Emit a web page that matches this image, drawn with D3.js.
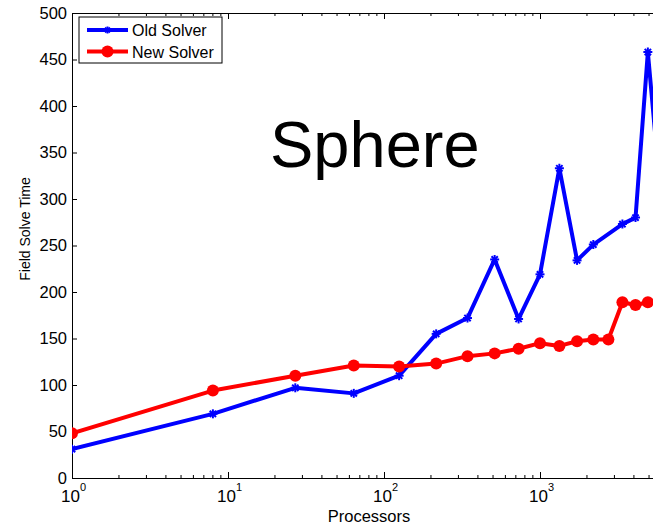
<!DOCTYPE html>
<html>
<head>
<meta charset="utf-8">
<script src="https://cdn.jsdelivr.net/npm/d3@7"></script>
<style>
  body { margin: 0; background: #fff; }
  svg { display: block; font-family: "Liberation Sans", Arial, sans-serif; }
</style>
</head>
<body>
<script>
// Processor counts (cubes) and solve times
var oldProcs = [1, 8, 27, 64, 125, 216, 343, 512, 729, 1000, 1331, 1728, 2197, 3375, 4096, 4913, 5832];
var oldTimes = [31, 69, 97, 91, 110, 155, 172, 235, 171, 219, 333, 234, 251, 273, 280, 458, 318];
var newProcs = [1, 8, 27, 64, 125, 216, 343, 512, 729, 1000, 1331, 1728, 2197, 2744, 3375, 4096, 4913];
var newTimes = [48, 94, 110, 121, 120, 123, 131, 134, 139, 145, 142, 147, 149, 149, 189, 186, 189];
var seriesNames = ["Old Solver", "New Solver"];
var yTicks = [0, 50, 100, 150, 200, 250, 300, 350, 400, 450, 500];
var xTicks = [1, 10, 100, 1000];

var width = 653, height = 526;
var plotLeft = 72, plotTop = 13, plotBottom = 478;

var svg = d3.select("body").append("svg")
  .attr("width", width)
  .attr("height", height);

// Log x scale: one decade is about 156px, axis runs past the right edge
var x = d3.scaleLog().domain([1, 6300]).range([plotLeft, plotLeft + 156 * Math.log10(6300)]);
var y = d3.scaleLinear().domain([0, 500]).range([plotBottom, plotTop]);
var plotRight = x.range()[1];

svg.append("defs").append("clipPath").attr("id", "plotClip")
  .append("rect")
  .attr("x", plotLeft).attr("y", plotTop - 8)
  .attr("width", plotRight - plotLeft).attr("height", plotBottom - plotTop + 16);

// Minor ticks for the log axis
var minor = [];
[1, 10, 100, 1000].forEach(function (d) {
  for (var k = 2; k <= 9; k++) if (d * k < 6300) minor.push(d * k);
});

// Bottom axis
var xAxis = svg.append("g")
  .attr("transform", "translate(0," + plotBottom + ")")
  .call(d3.axisBottom(x).tickValues(xTicks).tickSizeInner(-6).tickSizeOuter(0).tickFormat(""));
xAxis.select(".domain").attr("stroke", "#000");

xAxis.selectAll(".minor").data(minor).enter().append("line")
  .attr("class", "minor")
  .attr("x1", function (d) { return x(d); })
  .attr("x2", function (d) { return x(d); })
  .attr("y1", 0).attr("y2", -3)
  .attr("stroke", "#000");

// Tick labels as 10 with superscript exponent
xTicks.forEach(function (d) {
  var t = svg.append("text")
    .attr("x", x(d) - 11)
    .attr("y", 502)
    .attr("font-size", 17)
    .attr("fill", "#000");
  t.append("tspan").text("10");
  t.append("tspan").attr("dy", -11).attr("font-size", 11).text(Math.round(Math.log10(d)));
});

// Top axis (box)
var xTop = svg.append("g")
  .attr("transform", "translate(0," + plotTop + ")")
  .call(d3.axisTop(x).tickValues(xTicks).tickSizeInner(-6).tickSizeOuter(0).tickFormat(""));
xTop.selectAll(".minor").data(minor).enter().append("line")
  .attr("class", "minor")
  .attr("x1", function (d) { return x(d); })
  .attr("x2", function (d) { return x(d); })
  .attr("y1", 0).attr("y2", 3)
  .attr("stroke", "#000");

// Left axis
var yAxis = svg.append("g")
  .attr("transform", "translate(" + plotLeft + ",0)")
  .call(d3.axisLeft(y).tickValues(yTicks).tickSizeInner(-5).tickSizeOuter(0).tickPadding(5));
yAxis.selectAll("text").attr("font-size", 16.5).attr("fill", "#000")
  .attr("font-family", "Liberation Sans, Arial, sans-serif");

// Right axis line (off screen, kept for the box)
svg.append("line")
  .attr("x1", plotRight).attr("x2", plotRight)
  .attr("y1", plotTop).attr("y2", plotBottom)
  .attr("stroke", "#000");

// Axis titles
svg.append("text")
  .attr("x", 369).attr("y", 522)
  .attr("text-anchor", "middle")
  .attr("font-size", 16.5)
  .text("Processors");

svg.append("text")
  .attr("transform", "translate(30,229) rotate(-90)")
  .attr("text-anchor", "middle")
  .attr("font-size", 14)
  .text("Field Solve Time");

// Big title inside the plot
svg.append("text")
  .attr("x", 270).attr("y", 167)
  .attr("font-size", 65)
  .text("Sphere");

// Series lines
var plot = svg.append("g").attr("clip-path", "url(#plotClip)");

var line = d3.line()
  .x(function (d) { return x(d[0]); })
  .y(function (d) { return y(d[1]); });

var oldData = d3.zip(oldProcs, oldTimes);
var newData = d3.zip(newProcs, newTimes);

plot.append("path")
  .datum(oldData)
  .attr("fill", "none")
  .attr("stroke", "#0000ff")
  .attr("stroke-width", 4)
  .attr("stroke-linejoin", "round")
  .attr("d", line);

// Asterisk markers
function star(g, cx, cy, r, color) {
  var s = g.append("g").attr("transform", "translate(" + cx + "," + cy + ")")
    .attr("stroke", color).attr("stroke-width", 2);
  s.append("line").attr("x1", -r).attr("x2", r).attr("y1", 0).attr("y2", 0);
  s.append("line").attr("x1", 0).attr("x2", 0).attr("y1", -r).attr("y2", r);
  s.append("line").attr("x1", -r * 0.7).attr("x2", r * 0.7).attr("y1", -r * 0.7).attr("y2", r * 0.7);
  s.append("line").attr("x1", -r * 0.7).attr("x2", r * 0.7).attr("y1", r * 0.7).attr("y2", -r * 0.7);
}
oldData.forEach(function (d) { star(plot, x(d[0]), y(d[1]), 4.5, "#0000ff"); });

plot.append("path")
  .datum(newData)
  .attr("fill", "none")
  .attr("stroke", "#ff0000")
  .attr("stroke-width", 4)
  .attr("stroke-linejoin", "round")
  .attr("d", line);

plot.selectAll(".dot").data(newData).enter().append("circle")
  .attr("cx", function (d) { return x(d[0]); })
  .attr("cy", function (d) { return y(d[1]); })
  .attr("r", 6)
  .attr("fill", "#ff0000");

// Legend
var legend = svg.append("g");
legend.append("rect")
  .attr("x", 79).attr("y", 17)
  .attr("width", 143).attr("height", 46)
  .attr("fill", "#fff").attr("stroke", "#000");

seriesNames.forEach(function (name, i) {
  var ly = 30 + i * 21.5;
  var color = i === 0 ? "#0000ff" : "#ff0000";
  legend.append("line")
    .attr("x1", 87).attr("x2", 128)
    .attr("y1", ly).attr("y2", ly)
    .attr("stroke", color).attr("stroke-width", 4);
  if (i === 0) star(legend, 107.5, ly, 3.5, color);
  else legend.append("circle").attr("cx", 107.5).attr("cy", ly).attr("r", 6).attr("fill", color);
  legend.append("text")
    .attr("x", 132).attr("y", ly + 6)
    .attr("font-size", 16)
    .text(name);
});
</script>
</body>
</html>
